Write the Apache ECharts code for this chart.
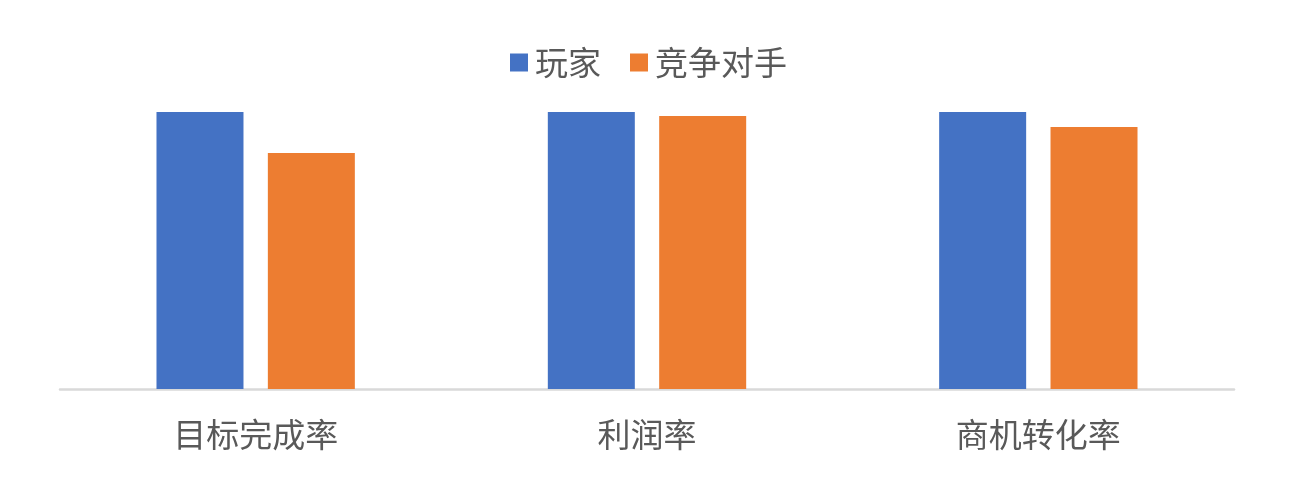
<!DOCTYPE html>
<html><head><meta charset="utf-8">
<script src="https://cdn.jsdelivr.net/npm/echarts@6/dist/echarts.min.js"></script>
<style>html,body{margin:0;padding:0;background:#fff}#c{width:1290px;height:478px}</style>
</head><body><div id="c"></div>
<script>
const categories = ['目标完成率', '利润率', '商机转化率'];
const seriesNames = ['玩家', '竞争对手'];
const playerValues = [1.0, 1.0, 1.0];
const competitorValues = [0.852, 0.986, 0.946];

const chart = echarts.init(document.getElementById('c'));
chart.setOption({
  animation: false,
  textStyle: { fontFamily: 'Noto Sans CJK SC' },
  legend: {
    top: 46, left: 510,
    itemWidth: 18, itemHeight: 18, itemGap: 29, padding: 0,
    icon: 'rect',
    textStyle: { fontSize: 33, color: '#595959', fontFamily: 'Noto Sans CJK SC', padding: [0, 0, 0, 2] },
    data: seriesNames
  },
  grid: { left: 60, right: 56, top: 112, bottom: 89, containLabel: false },
  xAxis: {
    type: 'category', data: categories,
    axisLine: { lineStyle: { color: '#d9d9d9', width: 2.5 } },
    axisTick: { show: false },
    axisLabel: { fontSize: 33, color: '#595959', margin: 29, fontFamily: 'Noto Sans CJK SC' }
  },
  yAxis: { type: 'value', min: 0, max: 1, show: false, splitLine: { show: false } },
  series: [
    { name: seriesNames[0], type: 'bar', data: playerValues, barWidth: 87, barGap: '28%', itemStyle: { color: '#4472c4' } },
    { name: seriesNames[1], type: 'bar', data: competitorValues, barWidth: 87, itemStyle: { color: '#ed7d31' } }
  ]
});
</script></body></html>
